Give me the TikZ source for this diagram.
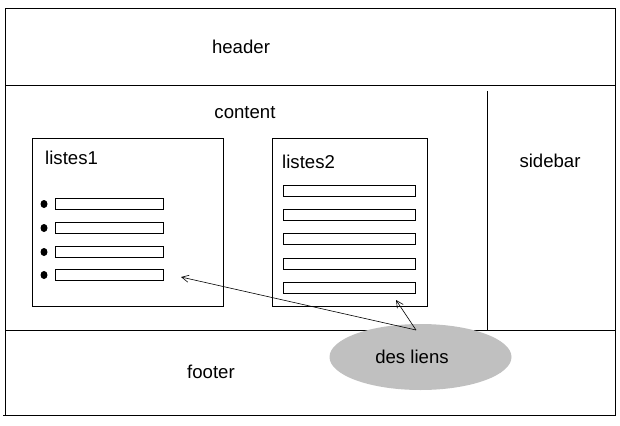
\documentclass[tikz,border=0pt]{standalone}
\usepackage{fontspec}
\setmainfont{Liberation Sans}
\usetikzlibrary{shapes.geometric,arrows.meta}
\begin{document}
\begin{tikzpicture}[x=1pt,y=-1pt,
  frame/.style={draw=black,line width=1pt},
  lbl/.style={font=\fontsize{18.6}{20}\selectfont,inner sep=0pt},
  bar/.style={draw=black,line width=1pt,fill=white},
  bul/.style={fill=black},
  link/.style={draw=black,line width=0.6pt,-{Straight Barb[length=7pt,width=7pt]}}]
\useasboundingbox (0,0) rectangle (620,425);
% outer frame and separators
\draw[frame] (5,9) rectangle (615,415);
\draw[frame] (5,86) -- (615,86);
\draw[frame] (5,330) -- (615,330);
\draw[frame] (487,91) -- (487,330);
\draw[frame] (3,415) -- (5,415);
% region labels
\node[lbl] (header) at (241,47) {header};
\node[lbl] (content) at (245,113) {content};
\node[lbl] (sidebar) at (550,161) {sidebar};
\node[lbl] (footer) at (211,372) {footer};
% listes1
\draw[frame] (32,138) rectangle (223,306);
\node[lbl,anchor=west] (l1) at (45,158) {listes1};
\foreach \yy/\n in {204/1,228/2,252/3,275/4}{
  \fill[bul] (44,\yy) ellipse (3.5 and 4);
  \draw[bar] (55,\yy-6) rectangle (163,\yy+5);
}
% listes2
\draw[frame] (272,138) rectangle (427,306);
\node[lbl,anchor=west] (l2) at (282,162) {listes2};
\foreach \yy in {191,215,239,264,288}{
  \draw[bar] (283,\yy-6) rectangle (415,\yy+5);
}
% des liens
\node[ellipse,fill={rgb,255:red,192;green,192;blue,192},minimum width=182pt,minimum height=66pt,inner sep=0pt] (liens) at (420.5,357) {};
\node[lbl] (liensT) at (412,357) {des liens};
\coordinate (src) at (416,330);
\coordinate (t1) at (181,277);
\coordinate (t2) at (396,300);
\draw[link] (src) -- (t1);
\draw[link] (src) -- (t2);
\end{tikzpicture}
\end{document}
